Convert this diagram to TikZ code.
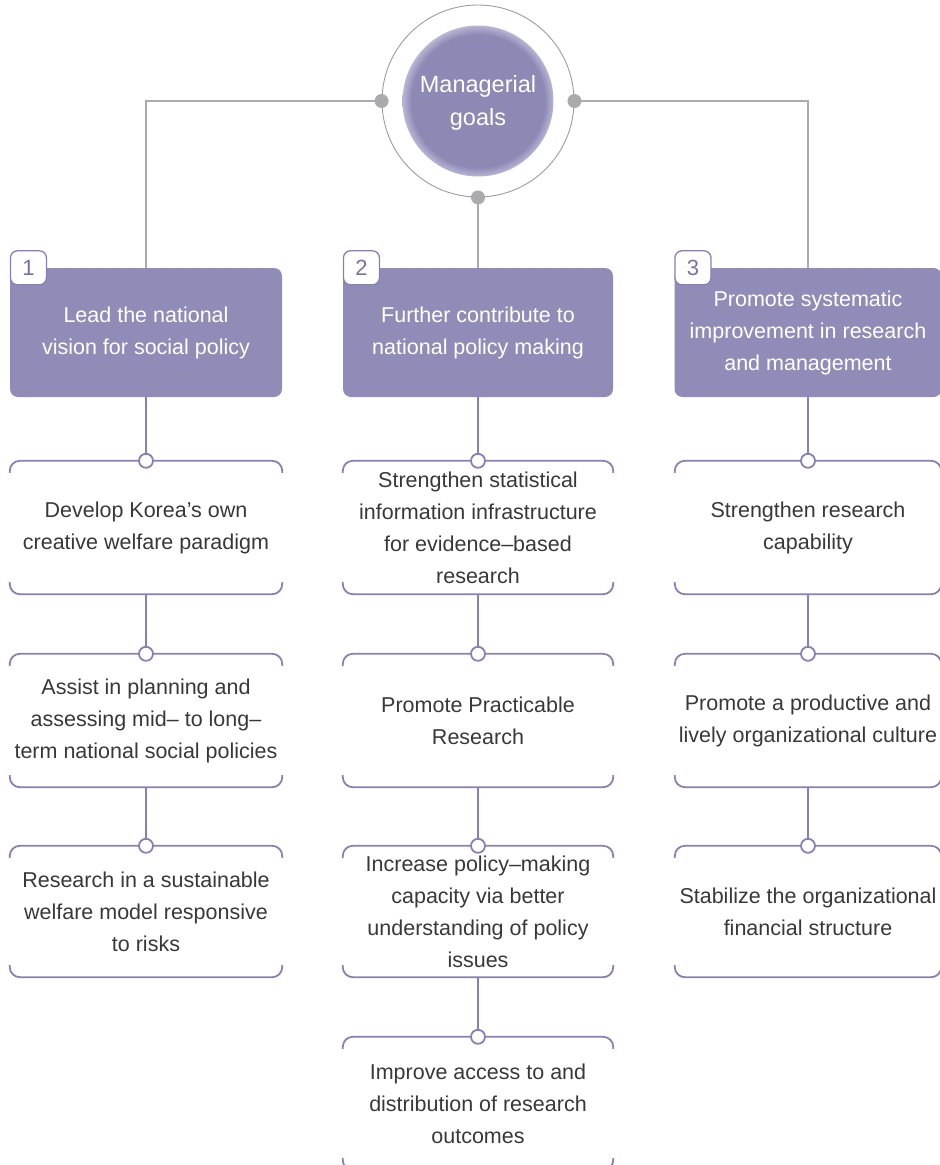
\documentclass[tikz,border=0pt]{standalone}
\usepackage{fontspec}
\setmainfont{Liberation Sans}
\usetikzlibrary{calc}
\definecolor{hdr}{HTML}{918CB7}
\definecolor{pl}{HTML}{8581B5}
\definecolor{gl}{HTML}{ABABAD}
\definecolor{ringc}{HTML}{9C9C9E}
\definecolor{txt}{HTML}{383838}
\definecolor{numc}{HTML}{77739F}
\definecolor{gcore}{HTML}{8D88B4}
\definecolor{gedge}{HTML}{B9B5D4}
\pgfdeclareradialshading{goalglow}{\pgfpoint{0bp}{0bp}}{color(0bp)=(gcore); color(22bp)=(gcore); color(25bp)=(gedge); color(50bp)=(gedge)}
\tikzset{
  hdrbox/.style={rectangle, rounded corners=8pt, fill=hdr, text=white, minimum height=129pt, align=center, inner sep=0pt, font=\fontsize{21.5}{32}\selectfont},
  bodybox/.style={rectangle, minimum height=133pt, align=center, inner sep=0pt, text=txt, font=\fontsize{21.5}{32}\selectfont},
  tabbox/.style={rectangle, rounded corners=7pt, draw=pl, line width=1.3pt, fill=white, minimum width=36pt, minimum height=34pt, inner sep=0pt, text=numc, font=\fontsize{22}{24}\selectfont},
  pline/.style={draw=pl, line width=1.8pt},
  gline/.style={draw=gl, line width=1.4pt},
  opencirc/.style={circle, draw=pl, line width=1.8pt, fill=white, minimum size=14pt, inner sep=0pt},
  graydot/.style={circle, fill=gl, minimum size=14pt, inner sep=0pt},
}
\newcommand{\brk}[1]{%
  \draw[pline, rounded corners=10pt] ([yshift=-12pt]#1.north west) -- (#1.north west) -- (#1.north east) -- ([yshift=-12pt]#1.north east);
  \draw[pline, rounded corners=10pt] ([yshift=12pt]#1.south west) -- (#1.south west) -- (#1.south east) -- ([yshift=12pt]#1.south east);
}
\begin{document}
\begin{tikzpicture}[x=1pt, y=-1pt]
\useasboundingbox (0,0) rectangle (940,1165);
\clip (0,0) rectangle (940,1165);

% central goal
\node[circle, draw=ringc, line width=0.9pt, minimum size=192pt, inner sep=0pt] (ring) at (478,101) {};
\node[circle, shading=goalglow, minimum size=151pt, inner sep=0pt] (goal) at (478,101) {};
\node[text=white, align=center, font=\fontsize{23.5}{33}\selectfont] (goaltxt) at (478,103) {Managerial\\goals};

% headers
\node[hdrbox, minimum width=272pt] (h1) at (146,332.5) {Lead the national\\vision for social policy};
\node[hdrbox, minimum width=270pt] (h2) at (478,332.5) {Further contribute to\\national policy making};
\node[hdrbox, minimum width=267pt] (h3) at (808,332.5) {Promote systematic\\improvement in research\\and management};
\node[tabbox, anchor=west] (t1) at (h1.north west) {1};
\node[tabbox, anchor=west] (t2) at (h2.north west) {2};
\node[tabbox, anchor=west] (t3) at (h3.north west) {3};

% gray connectors
\draw[gline] (ring.west) -| (h1.north);
\draw[gline] (ring.east) -| (h3.north);
\draw[gline] (ring.south) -- (h2.north);
\node[graydot] (dl) at (ring.west) {};
\node[graydot] (dr) at (ring.east) {};
\node[graydot] (db) at (ring.south) {};

% column 1
\node[bodybox, minimum width=272pt] (a1) at (146,527.5) {Develop Korea’s own\\creative welfare paradigm};
\node[bodybox, minimum width=272pt] (b1) at (146,720.5) {Assist in planning and\\assessing mid– to long–\\term national social policies};
\node[bodybox, minimum width=272pt, minimum height=131pt] (c1) at (146,911.5) {Research in a sustainable\\welfare model responsive\\to risks};

% column 2
\node[bodybox, minimum width=270pt] (a2) at (478,527.5) {Strengthen statistical\\information infrastructure\\for evidence–based\\research};
\node[bodybox, minimum width=270pt] (b2) at (478,720.5) {Promote Practicable\\Research};
\node[bodybox, minimum width=270pt, minimum height=131pt] (c2) at (478,911.5) {Increase policy–making\\capacity via better\\understanding of policy\\issues};
\node[bodybox, minimum width=270pt] (d2) at (478,1103.5) {Improve access to and\\distribution of research\\outcomes};

% column 3
\node[bodybox, minimum width=266pt] (a3) at (808,527.5) {Strengthen research\\capability};
\node[bodybox, minimum width=266pt] (b3) at (808,720.5) {Promote a productive and\\lively organizational culture};
\node[bodybox, minimum width=266pt, minimum height=131pt] (c3) at (808,911.5) {Stabilize the organizational\\financial structure};

% brackets
\brk{a1}\brk{b1}\brk{c1}
\brk{a2}\brk{b2}\brk{c2}\brk{d2}
\brk{a3}\brk{b3}\brk{c3}

% purple connectors
\draw[pline] (h1.south) -- (a1.north);
\draw[pline] (a1.south) -- (b1.north);
\draw[pline] (b1.south) -- (c1.north);
\draw[pline] (h2.south) -- (a2.north);
\draw[pline] (a2.south) -- (b2.north);
\draw[pline] (b2.south) -- (c2.north);
\draw[pline] (c2.south) -- (d2.north);
\draw[pline] (h3.south) -- (a3.north);
\draw[pline] (a3.south) -- (b3.north);
\draw[pline] (b3.south) -- (c3.north);
\foreach \n in {a1,b1,c1,a2,b2,c2,d2,a3,b3,c3} {
  \node[opencirc] at (\n.north) {};
}
\end{tikzpicture}
\end{document}
